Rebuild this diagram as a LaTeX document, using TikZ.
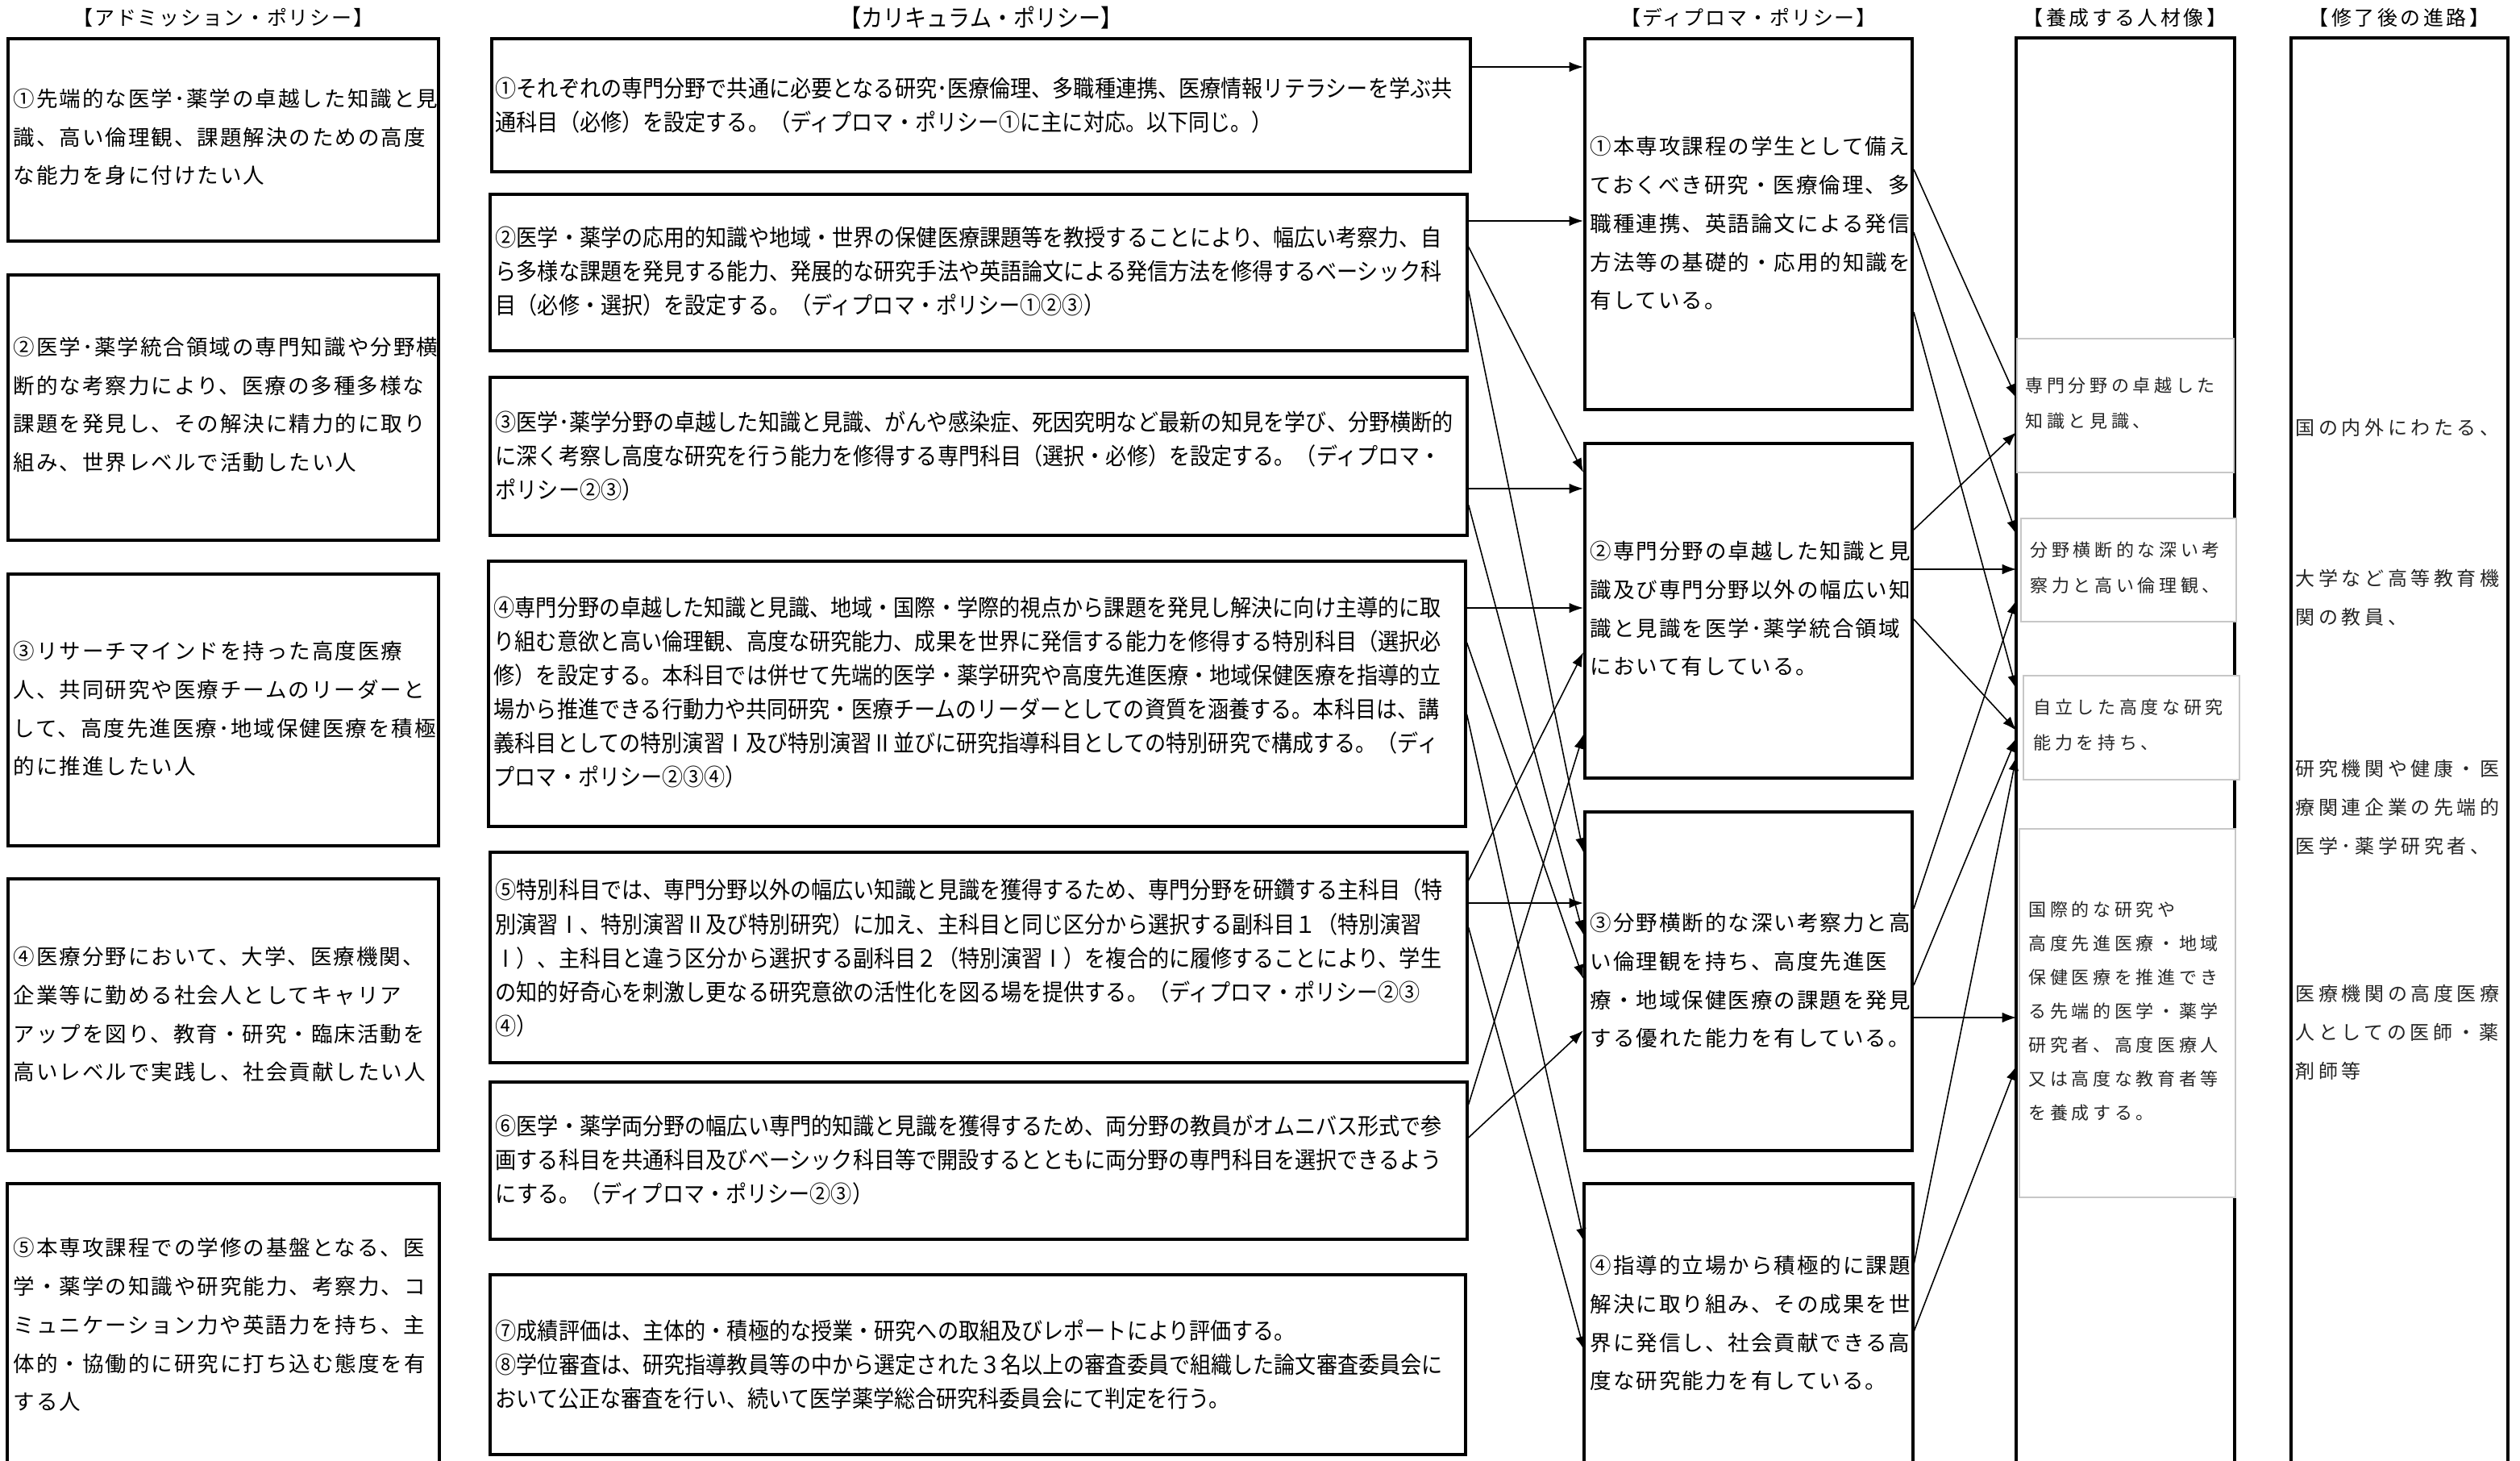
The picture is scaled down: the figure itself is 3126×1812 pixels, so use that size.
\documentclass[tikz,border=0pt]{standalone}
\usepackage{fontspec}
\usetikzlibrary{arrows.meta,fit}
\newfontfamily\jpw[LetterSpace=7.5]{Noto Sans CJK JP}
\newfontfamily\jpc[FakeStretch=0.9]{Noto Sans CJK JP}
\newfontfamily\jpj[LetterSpace=21]{Noto Sans CJK JP}
\newfontfamily\jpk[LetterSpace=19]{Noto Sans CJK JP}
\newfontfamily\jph[LetterSpace=7]{Noto Sans CJK JP}
\newfontfamily\jphw[LetterSpace=14]{Noto Sans CJK JP}
\tikzset{
 boxa/.style={draw, line width=1.1pt, inner sep=0pt},
 boxc/.style={draw, line width=0.9pt, inner sep=0pt},
 frame/.style={inner sep=0pt},
 openline/.style={line width=1.1pt},
 graybox/.style={draw=black!22, fill=white, line width=0.8pt, inner sep=0pt},
 txtA/.style={anchor=west, align=left, inner sep=0pt, font=\jpw\fontsize{7.54pt}{13.6pt}\selectfont},
 txtC/.style={anchor=west, align=left, inner sep=0pt, font=\jpc\fontsize{8.25pt}{11.95pt}\selectfont},
 txtJ/.style={anchor=west, align=left, inner sep=0pt, text=black!85, font=\jpj\fontsize{6.26pt}{12.5pt}\selectfont},
 txtJf/.style={anchor=west, align=left, inner sep=0pt, text=black!85, font=\jpj\fontsize{6.26pt}{11.95pt}\selectfont},
 txtK/.style={anchor=west, align=left, inner sep=0pt, text=black!85, font=\jpk\fontsize{6.83pt}{13.66pt}\selectfont},
 hdr/.style={anchor=center, inner sep=0pt, font=\jph\fontsize{7.1pt}{8pt}\selectfont},
 hdrc/.style={anchor=center, inner sep=0pt, font=\jpc\fontsize{8.54pt}{10pt}\selectfont},
 hdrw/.style={anchor=center, inner sep=0pt, font=\jphw\fontsize{7.1pt}{8pt}\selectfont},
 arr/.style={line width=0.45pt, -{Latex[length=5pt,width=3.6pt]}},
}
\begin{document}
\begin{tikzpicture}[x=0.01cm,y=-0.01cm]
\fill[white] (0,0) rectangle (3126,1812);
\useasboundingbox (0,0) rectangle (3126,1812);

% headers
\node[hdr] (hA) at (277,22) {【アドミッション・ポリシー】};
\node[hdrc] (hC) at (1217,22) {【カリキュラム・ポリシー】};
\node[hdr] (hD) at (2169,22) {【ディプロマ・ポリシー】};
\node[hdrw] (hJ) at (2636,22) {【養成する人材像】};
\node[hdrw] (hK) at (2976,22) {【修了後の進路】};

% admission boxes
\node[boxa, fit={(10,48) (544,299)}] (a1) {};
\node[boxa, fit={(10,341) (544,670)}] (a2) {};
\node[boxa, fit={(10,712) (544,1049)}] (a3) {};
\node[boxa, fit={(10,1090) (544,1427)}] (a4) {};
\node[frame, fit={(10,1469) (544,1812)}] (a5) {};
\draw[openline] (a5.south west) -- (a5.north west) -- (a5.north east) -- (a5.south east);

\node[txtA] (ta1) at (16,170) {①先端的な医学･薬学の卓越した知識と見\\識、高い倫理観、課題解決のための高度\\な能力を身に付けたい人};
\node[txtA] (ta2) at (16,502) {②医学･薬学統合領域の専門知識や分野横\\断的な考察力により、医療の多種多様な\\課題を発見し、その解決に精力的に取り\\組み、世界レベルで活動したい人};
\node[txtA] (ta3) at (16,879) {③リサーチマインドを持った高度医療\\人、共同研究や医療チームのリーダーと\\して、高度先進医療･地域保健医療を積極\\的に推進したい人};
\node[txtA] (ta4) at (16,1258) {④医療分野において、大学、医療機関、\\企業等に勤める社会人としてキャリア\\アップを図り、教育・研究・臨床活動を\\高いレベルで実践し、社会貢献したい人};
\node[txtA] (ta5) at (16,1643) {⑤本専攻課程での学修の基盤となる、医\\学・薬学の知識や研究能力、考察力、コ\\ミュニケーション力や英語力を持ち、主\\体的・協働的に研究に打ち込む態度を有\\する人};

% curriculum boxes
\node[boxc, fit={(610,48) (1824,213)}] (c1) {};
\node[boxc, fit={(608,241) (1820,435)}] (c2) {};
\node[boxc, fit={(608,468) (1820,664)}] (c3) {};
\node[boxc, fit={(606,696) (1818,1025)}] (c4) {};
\node[boxc, fit={(608,1057) (1820,1318)}] (c5) {};
\node[boxc, fit={(608,1342) (1820,1537)}] (c6) {};
\node[boxc, fit={(608,1581) (1818,1804)}] (c7) {};

\node[txtC] (tc1) at (614,131) {①それぞれの専門分野で共通に必要となる研究･医療倫理、多職種連携、医療情報リテラシーを学ぶ共\\通科目（必修）を設定する。（ディプロマ・ポリシー①に主に対応。以下同じ。）};
\node[txtC] (tc2) at (614,337) {②医学・薬学の応用的知識や地域・世界の保健医療課題等を教授することにより、幅広い考察力、自\\ら多様な課題を発見する能力、発展的な研究手法や英語論文による発信方法を修得するベーシック科\\目（必修・選択）を設定する。（ディプロマ・ポリシー①②③）};
\node[txtC] (tc3) at (614,566) {③医学･薬学分野の卓越した知識と見識、がんや感染症、死因究明など最新の知見を学び、分野横断的\\に深く考察し高度な研究を行う能力を修得する専門科目（選択・必修）を設定する。（ディプロマ・\\ポリシー②③）};
\node[txtC] (tc4) at (612,859) {④専門分野の卓越した知識と見識、地域・国際・学際的視点から課題を発見し解決に向け主導的に取\\り組む意欲と高い倫理観、高度な研究能力、成果を世界に発信する能力を修得する特別科目（選択必\\修）を設定する。本科目では併せて先端的医学・薬学研究や高度先進医療・地域保健医療を指導的立\\場から推進できる行動力や共同研究・医療チームのリーダーとしての資質を涵養する。本科目は、講\\義科目としての特別演習Ⅰ及び特別演習Ⅱ並びに研究指導科目としての特別研究で構成する。（ディ\\プロマ・ポリシー②③④）};
\node[txtC] (tc5) at (614,1188) {⑤特別科目では、専門分野以外の幅広い知識と見識を獲得するため、専門分野を研鑽する主科目（特\\別演習Ⅰ、特別演習Ⅱ及び特別研究）に加え、主科目と同じ区分から選択する副科目１（特別演習\\Ⅰ）、主科目と違う区分から選択する副科目２（特別演習Ⅰ）を複合的に履修することにより、学生\\の知的好奇心を刺激し更なる研究意欲の活性化を図る場を提供する。（ディプロマ・ポリシー②③\\④）};
\node[txtC] (tc6) at (614,1439) {⑥医学・薬学両分野の幅広い専門的知識と見識を獲得するため、両分野の教員がオムニバス形式で参\\画する科目を共通科目及びベーシック科目等で開設するとともに両分野の専門科目を選択できるよう\\にする。（ディプロマ・ポリシー②③）};
\node[txtC] (tc7) at (614,1692) {⑦成績評価は、主体的・積極的な授業・研究への取組及びレポートにより評価する。\\⑧学位審査は、研究指導教員等の中から選定された３名以上の審査委員で組織した論文審査委員会に\\おいて公正な審査を行い、続いて医学薬学総合研究科委員会にて判定を行う。};

% diploma boxes
\node[boxa, fit={(1966,48) (2372,508)}] (d1) {};
\node[boxa, fit={(1966,550) (2372,965)}] (d2) {};
\node[boxa, fit={(1966,1007) (2372,1427)}] (d3) {};
\node[frame, fit={(1966,1469) (2372,1812)}] (d4) {};
\draw[openline] (d4.south west) -- (d4.north west) -- (d4.north east) -- (d4.south east);

\node[txtA] (td1) at (1972,277) {①本専攻課程の学生として備え\\ておくべき研究・医療倫理、多\\職種連携、英語論文による発信\\方法等の基礎的・応用的知識を\\有している。};
\node[txtA] (td2) at (1972,755) {②専門分野の卓越した知識と見\\識及び専門分野以外の幅広い知\\識と見識を医学･薬学統合領域\\において有している。};
\node[txtA] (td3) at (1972,1216) {③分野横断的な深い考察力と高\\い倫理観を持ち、高度先進医\\療・地域保健医療の課題を発見\\する優れた能力を有している。};
\node[txtA] (td4) at (1972,1641) {④指導的立場から積極的に課題\\解決に取り組み、その成果を世\\界に発信し、社会貢献できる高\\度な研究能力を有している。};

% human resource column
\node[frame, fit={(2502,48) (2771,1812)}] (jo) {};
\draw[openline] (jo.south west) -- (jo.north west) -- (jo.north east) -- (jo.south east);
\node[graybox, fit={(2502,420) (2771,586)}] (j1) {};
\node[graybox, fit={(2507,643) (2774,771)}] (j2) {};
\node[graybox, fit={(2510,838) (2778,967)}] (j3) {};
\node[graybox, fit={(2505,1028) (2773,1485)}] (j4) {};
\node[txtJ] (tj1) at (2512,500) {専門分野の卓越した\\知識と見識、};
\node[txtJ] (tj2) at (2518,704) {分野横断的な深い考\\察力と高い倫理観、};
\node[txtJ] (tj3) at (2522,899) {自立した高度な研究\\能力を持ち、};
\node[txtJf] (tj4) at (2516,1254) {国際的な研究や\\高度先進医療・地域\\保健医療を推進でき\\る先端的医学・薬学\\研究者、高度医療人\\又は高度な教育者等\\を養成する。};

% career column
\node[frame, fit={(2843,48) (3110,1812)}] (ko) {};
\draw[openline] (ko.south west) -- (ko.north west) -- (ko.north east) -- (ko.south east);
\node[txtK] (tk1) at (2847,530) {国の内外にわたる、};
\node[txtK] (tk2) at (2847,741) {大学など高等教育機\\関の教員、};
\node[txtK] (tk3) at (2847,1001) {研究機関や健康・医\\療関連企業の先端的\\医学･薬学研究者、};
\node[txtK] (tk4) at (2847,1280) {医療機関の高度医療\\人としての医師・薬\\剤師等};

% curriculum -> diploma
\draw[arr] (c1.east |- 0,83) -- (d1.west |- 0,83);
\draw[arr] (c2.east |- 0,274) -- (d1.west |- 0,274);
\draw[arr] (c2.east |- 0,306) -- (d2.west |- 0,586);
\draw[arr] (c2.east |- 0,360) -- (d3.west |- 0,1057);
\draw[arr] (c3.east |- 0,606) -- (d2.west |- 0,606);
\draw[arr] (c3.east |- 0,626) -- (d3.west |- 0,1159);
\draw[arr] (c4.east |- 0,754) -- (d2.west |- 0,754);
\draw[arr] (c4.east |- 0,797) -- (d3.west |- 0,1214);
\draw[arr] (c4.east |- 0,886) -- (d4.west |- 0,1541);
\draw[arr] (c5.east |- 0,1092) -- (d2.west |- 0,809);
\draw[arr] (c5.east |- 0,1120) -- (d3.west |- 0,1120);
\draw[arr] (c5.east |- 0,1150) -- (d4.west |- 0,1675);
\draw[arr] (c6.east |- 0,1370) -- (d2.west |- 0,911);
\draw[arr] (c6.east |- 0,1411) -- (d3.west |- 0,1278);

% diploma -> human resource
\draw[arr] (d1.east |- 0,210) -- (jo.west |- 0,494);
\draw[arr] (d1.east |- 0,288) -- (jo.west |- 0,663);
\draw[arr] (d1.east |- 0,387) -- (jo.west |- 0,855);
\draw[arr] (d2.east |- 0,657) -- (jo.west |- 0,536);
\draw[arr] (d2.east |- 0,706) -- (jo.west |- 0,706);
\draw[arr] (d2.east |- 0,768) -- (jo.west |- 0,906);
\draw[arr] (d3.east |- 0,1127) -- (jo.west |- 0,744);
\draw[arr] (d3.east |- 0,1222) -- (jo.west |- 0,915);
\draw[arr] (d3.east |- 0,1262) -- (jo.west |- 0,1262);
\draw[arr] (d4.east |- 0,1575) -- (jo.west |- 0,938);
\draw[arr] (d4.east |- 0,1655) -- (jo.west |- 0,1322);
\end{tikzpicture}
\end{document}
